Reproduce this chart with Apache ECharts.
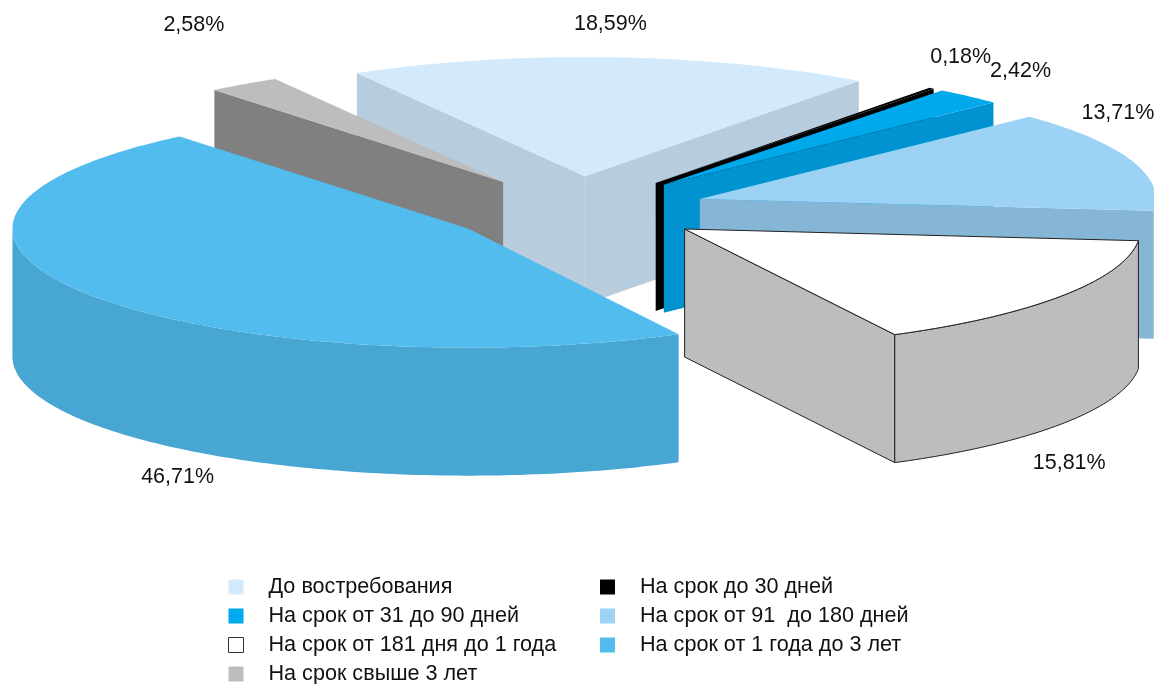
<!DOCTYPE html>
<html><head><meta charset="utf-8">
<style>html,body{margin:0;padding:0;background:#fff}#c{width:1154px;height:684px}</style>
<script src="https://cdn.jsdelivr.net/npm/echarts@6/dist/echarts.min.js"></script>
</head><body><div id="c"></div>
<script>
// Data
var categories = ['До востребования','На срок до 30 дней','На срок от 31 до 90 дней','На срок от 91  до 180 дней','На срок от 181 дня до 1 года','На срок от 1 года до 3 лет','На срок свыше 3 лет'];
var shares = [18.59,0.18,2.42,13.71,15.81,46.71,2.58];

// Styles
var topColors  = ['#d2eafb','#000000','#00a8ec','#9bd2f6','#ffffff','#52bcef','#bdbdbd'];
var wallColors = ['#b7cddd','#000000','#0093cf','#85b6d5','#bdbdbd','#48a6d2','#808080'];
var paintOrder = [0,1,2,3,6,5,4].reduce(function(m,idx,z){m[idx]=z+2;return m;},{});
var labelOffsets = [[-2,-33],[29,-31],[52,-25],[-13,-47],[7,167],[90,183],[-50,-59]];
var outlined = 4;
// Pie geometry
var cx=577, cy=210, rx=456, ry=119, depth=128, explode=0.285, firstAngle=-30;

function rad(d){return d*Math.PI/180;}
function rim(c,a){return [c[0]+rx*Math.sin(rad(a)), c[1]-ry*Math.cos(rad(a))];}
function down(p){return [p[0],p[1]+depth];}
function arc(c,a0,a1){var pts=[],n=Math.max(2,Math.ceil(Math.abs(a1-a0)));for(var i=0;i<=n;i++)pts.push(rim(c,a0+(a1-a0)*i/n));return pts;}

var startAngles=[];
shares.reduce(function(acc,v,i){startAngles[i]=acc;return acc+v*3.6;},firstAngle);

function renderSlice(i){
  return function(params,api){
    var a0=startAngles[i], a1=a0+api.value(0)*3.6, mid=(a0+a1)/2;
    var apex=[cx+explode*rx*Math.sin(rad(mid)), cy-explode*ry*Math.cos(rad(mid))];
    var line=i===outlined?{stroke:'#222',lineWidth:1,lineJoin:'round'}:{};
    var wall=Object.assign({fill:wallColors[i]},line), top=Object.assign({fill:topColors[i]},line);
    var kids=[];
    function poly(pts,style){kids.push({type:'polygon',shape:{points:pts},style:style,silent:true});}
    // radial walls facing the viewer
    if(Math.sin(rad(a0))<0){var s=rim(apex,a0);poly([apex,s,down(s),down(apex)],wall);}
    if(Math.sin(rad(a1))>0){var e=rim(apex,a1);poly([apex,e,down(e),down(apex)],wall);}
    // outer wall: front half of the rim only (90..270 in continuous angle)
    var f0=Math.max(a0,90), f1=Math.min(a1,270);
    if(f1>f0){var o=arc(apex,f0,f1);poly(o.concat(o.map(down).reverse()),wall);}
    // top face
    poly([apex].concat(arc(apex,a0,a1)),top);
    // percentage label
    var m=rim(apex,mid);
    kids.push({type:'text',silent:true,style:{
      text:api.value(0).toFixed(2).replace('.',',')+'%',
      x:m[0]+labelOffsets[i][0],y:m[1]+labelOffsets[i][1],
      align:'center',verticalAlign:'middle',
      font:'21.5px "Liberation Sans"',fill:'#111'}});
    return {type:'group',children:kids};
  };
}

var series=categories.map(function(name,i){
  return {name:name,type:'custom',coordinateSystem:'none',z:paintOrder[i],silent:true,
    animation:false,clip:false,itemStyle:{color:topColors[i]},
    renderItem:renderSlice(i),data:[[shares[i]]]};
});

function legendItem(i){
  var it={name:categories[i]};
  if(i===outlined) it.itemStyle={color:'#fff',borderColor:'#333',borderWidth:1};
  return it;
}
function legendCfg(left,ids){
  return {orient:'vertical',left:left,top:576,height:130,itemWidth:15,itemHeight:15,itemGap:7,icon:'rect',
    selectedMode:false,padding:0,
    textStyle:{fontFamily:'Liberation Sans',fontSize:21.6,color:'#111',padding:[0,0,0,20],lineHeight:22},
    data:ids.map(legendItem)};
}
var chart=echarts.init(document.getElementById('c'),null,{renderer:'canvas'});
chart.setOption({animation:false,backgroundColor:'#fff',
  legend:[legendCfg(228,[0,2,4,6]),legendCfg(600,[1,3,5])],
  series:series});
</script></body></html>
